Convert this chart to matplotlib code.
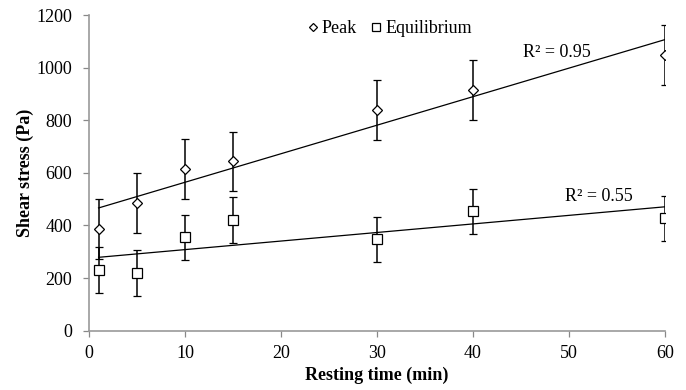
import numpy as np
import matplotlib
matplotlib.use("Agg")
import matplotlib.pyplot as plt

plt.rcParams['font.family'] = ['Liberation Serif', 'DejaVu Serif']

time_min = [1, 5, 10, 15, 30, 40, 60]
peak = [387, 487, 615, 644, 839, 916, 1048]
peak_err = [115, 114, 113, 113, 113, 114, 114]
equil = [231, 219, 355, 421, 347, 454, 427]
equil_err = [86, 86, 86, 86, 86, 86, 86]
r2_labels = ["R\u00b2 = 0.95", "R\u00b2 = 0.55"]

fig = plt.figure(figsize=(6.86, 3.9), dpi=100)
ax = fig.add_axes([0.1297, 0.152, 0.8393, 0.8095])

ax.errorbar(time_min, peak, yerr=peak_err, fmt='D', ms=5.5, mfc='white',
            mec='black', mew=0.9, ecolor='black', elinewidth=1.1, capsize=3,
            capthick=1.1, label='Peak', zorder=3)
ax.errorbar(time_min, equil, yerr=equil_err, fmt='s', ms=7.5, mfc='white',
            mec='black', mew=0.9, ecolor='black', elinewidth=1.1, capsize=3,
            capthick=1.1, label='Equilibrium', zorder=3)

# linear trendlines
xs = np.array([time_min[0], time_min[-1]])
for ys in (peak, equil):
    k, b = np.polyfit(time_min, ys, 1)
    ax.plot(xs, k * xs + b, color='black', lw=0.9, zorder=2)

fs = 13
ax.text(45.2, 1056, r2_labels[0], fontsize=fs, va='center')
ax.text(49.6, 512, r2_labels[1], fontsize=fs, va='center')

ax.set_xlim(0, 60)
ax.set_ylim(0, 1200)
ax.set_xticks(range(0, 61, 10))
ax.set_yticks(range(0, 1201, 200))
ax.tick_params(colors='#888888', labelcolor='black', labelsize=fs,
               length=4, width=0.9)
ax.tick_params(axis='y', pad=8)
ax.tick_params(axis='x', pad=6)
for s in ('top', 'right'):
    ax.spines[s].set_visible(False)
for s in ('left', 'bottom'):
    ax.spines[s].set_color('#999999')
    ax.spines[s].set_linewidth(1.2)

ax.set_xlabel('Resting time (min)', fontsize=fs, fontweight='bold', labelpad=4)
ax.set_ylabel('Shear stress (Pa)', fontsize=fs, fontweight='bold', labelpad=1.5)

handles, labels = ax.get_legend_handles_labels()
handles = [h[0] for h in handles]
ax.legend(handles, labels, loc='upper center', bbox_to_anchor=(0.52, 1.035),
          ncol=2, frameon=False, fontsize=fs, handletextpad=0.05,
          columnspacing=0.6, handlelength=0.9, markerscale=0.8)

fig.savefig('out.png', dpi=100)
